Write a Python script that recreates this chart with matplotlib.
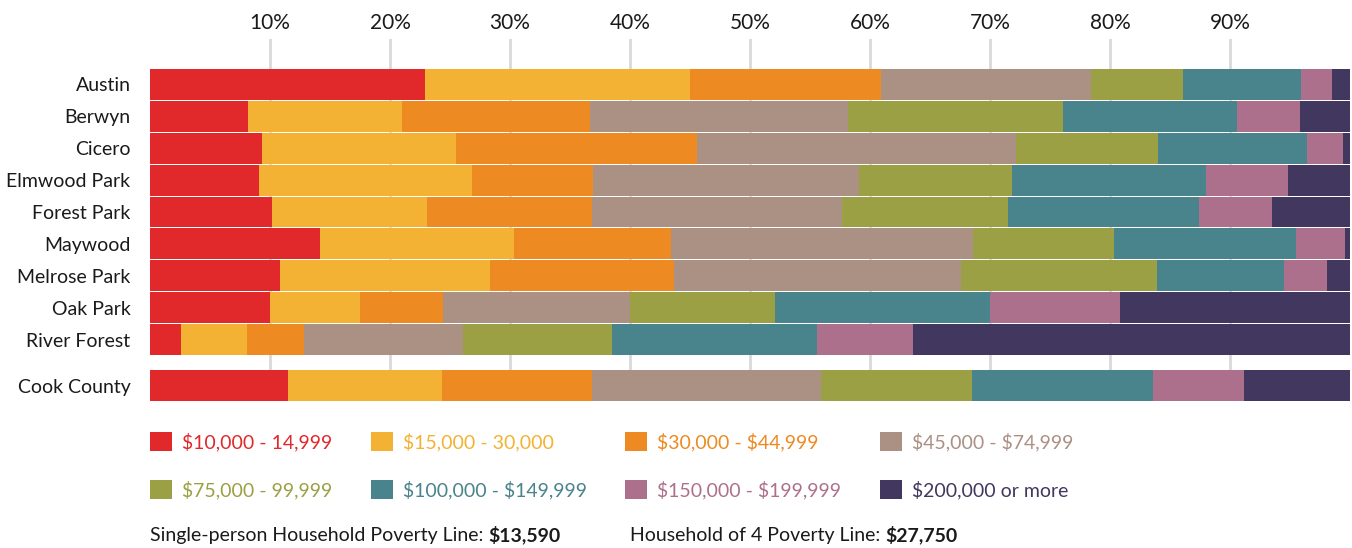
import matplotlib.pyplot as plt
from matplotlib.patches import Patch

plt.rcParams['font.family'] = ['Lato', 'DejaVu Sans']
plt.rcParams['text.parse_math'] = False

towns = ['Austin', 'Berwyn', 'Cicero', 'Elmwood Park', 'Forest Park', 'Maywood',
         'Melrose Park', 'Oak Park', 'River Forest', 'Cook County']
brackets = ['$10,000 - 14,999', '$15,000 - 30,000', '$30,000 - $44,999', '$45,000 - $74,999',
            '$75,000 - 99,999', '$100,000 - $149,999', '$150,000 - $199,999', '$200,000 or more']
colors = ['#e1282a', '#f3b233', '#ed8a21', '#ab9084', '#9ba044', '#49838c', '#ad708c', '#42375e']

# percent of households in each income bracket
inc_10_15 = [22.9, 8.2, 9.3, 9.1, 10.2, 14.2, 10.8, 10.0, 2.6, 11.5]
inc_15_30 = [22.1, 12.8, 16.2, 17.7, 12.9, 16.1, 17.5, 7.5, 5.5, 12.8]
inc_30_45 = [15.9, 15.7, 20.1, 10.1, 13.7, 13.1, 15.4, 6.9, 4.7, 12.5]
inc_45_75 = [17.5, 21.5, 26.6, 22.2, 20.9, 25.2, 23.9, 15.6, 13.3, 19.1]
inc_75_100 = [7.7, 17.9, 11.8, 12.7, 13.8, 11.7, 16.3, 12.1, 12.4, 12.6]
inc_100_150 = [9.8, 14.5, 12.4, 16.2, 15.9, 15.2, 10.6, 17.9, 17.1, 15.1]
inc_150_200 = [2.6, 5.2, 3.0, 6.8, 6.1, 4.1, 3.6, 10.8, 8.0, 7.6]
inc_200_up = [1.5, 4.2, 0.6, 5.2, 6.5, 0.4, 1.9, 19.2, 36.4, 8.8]

series = [inc_10_15, inc_15_30, inc_30_45, inc_45_75, inc_75_100,
          inc_100_150, inc_150_200, inc_200_up]

W, H = 1352, 548
fig = plt.figure(figsize=(W / 100, H / 100), dpi=100)
ax = fig.add_axes([150 / W, (H - 401) / H, 1200 / W, (401 - 39) / H])

ypos = list(range(9)) + [9.44]
left = [0.0] * len(towns)
for vals, col in zip(series, colors):
    ax.barh(ypos, vals, left=left, height=0.97, color=col, linewidth=0)
    left = [l + v for l, v in zip(left, vals)]

ax.set_xlim(0, 100)
ax.set_ylim(9.926, -1.426)
ax.set_xticks(range(10, 100, 10))
ax.set_xticklabels([f'{t}%' for t in range(10, 100, 10)])
ax.set_yticks(ypos)
ax.set_yticklabels(towns)
ax.tick_params(axis='x', top=True, labeltop=True, bottom=False, labelbottom=False,
               length=0, pad=4, labelsize=15, labelcolor='#1a1a1a')
ax.tick_params(axis='y', length=0, pad=14, labelsize=14, labelcolor='#1a1a1a')
ax.set_axisbelow(True)
ax.xaxis.grid(True, color='#d9d9d9', linewidth=2)
for s in ax.spines.values():
    s.set_visible(False)

order = [0, 4, 1, 5, 2, 6, 3, 7]
handles = [Patch(facecolor=colors[i], edgecolor='none') for i in order]
labels = [brackets[i] for i in order]
fig.legend(handles, labels, ncol=4, loc='upper left',
           bbox_to_anchor=(150 / W, 1 - 432 / H), frameon=False,
           fontsize=14, labelcolor=[colors[i] for i in order],
           handlelength=1.13, handleheight=1.13, handletextpad=0.5,
           columnspacing=2.0, labelspacing=1.5, borderpad=0, borderaxespad=0)

t1 = fig.text(150 / W, 1 - 535 / H, 'Single-person Household Poverty Line: ',
              fontsize=14, va='center', color='#1a1a1a')
ax.annotate('$13,590', xy=(1, 0.5), xycoords=t1, va='center', fontsize=14,
            fontweight='bold', color='#1a1a1a')
t2 = fig.text(630 / W, 1 - 535 / H, 'Household of 4 Poverty Line: ',
              fontsize=14, va='center', color='#1a1a1a')
ax.annotate('$27,750', xy=(1, 0.5), xycoords=t2, va='center', fontsize=14,
            fontweight='bold', color='#1a1a1a')

fig.savefig('out.png', dpi=100)
